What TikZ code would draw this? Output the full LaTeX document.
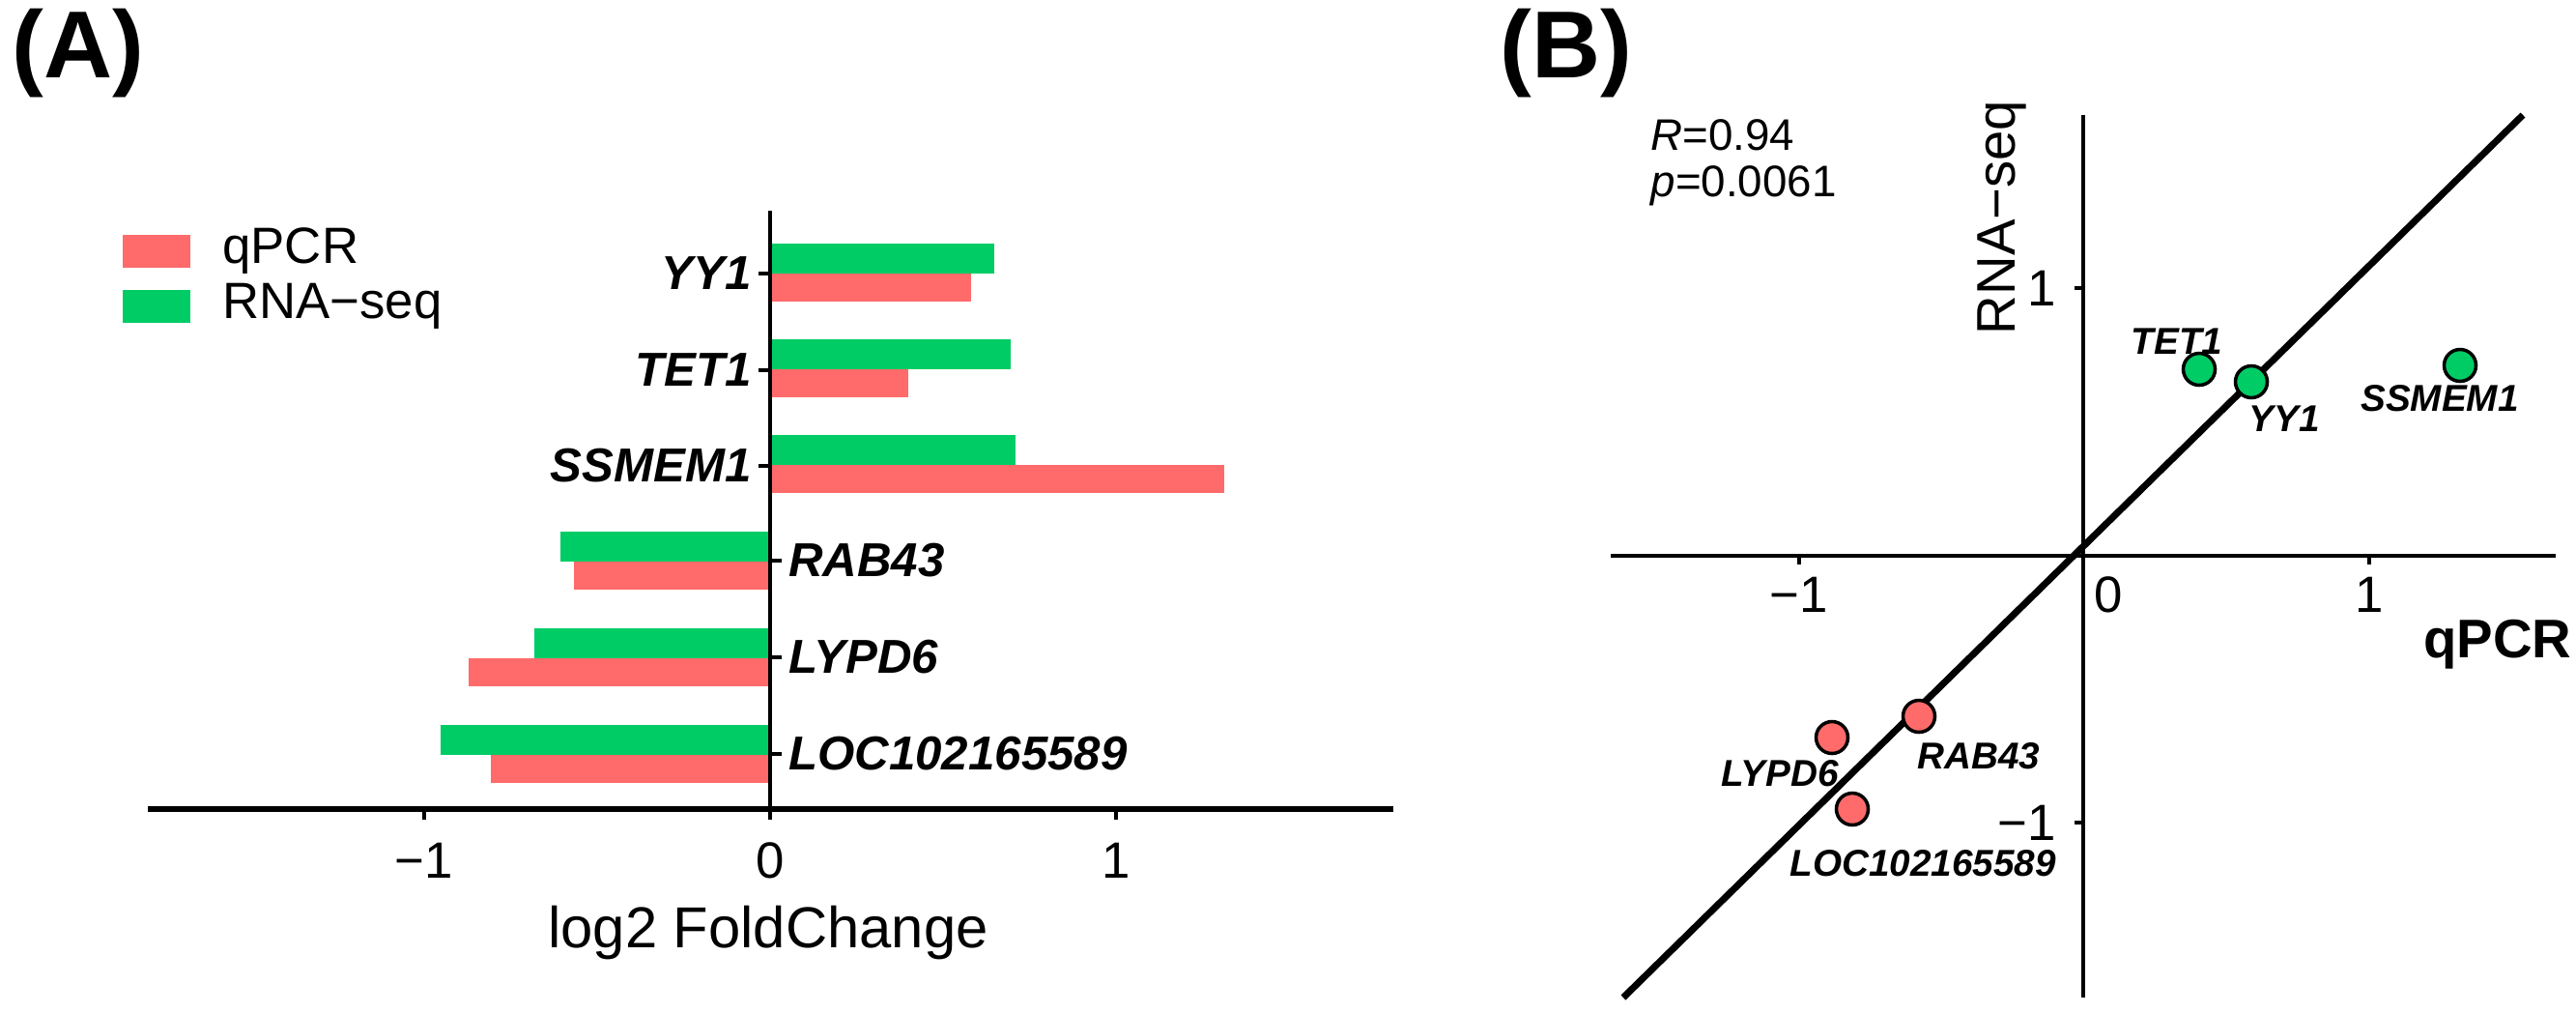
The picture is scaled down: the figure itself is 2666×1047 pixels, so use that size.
\documentclass[tikz,border=0pt]{standalone}
\usepackage{fontspec}
\setmainfont{Liberation Sans}
\begin{document}
\begin{tikzpicture}[x=0.01cm,y=-0.01cm,
  gene/.style={font=\fontsize{14}{16}\selectfont\bfseries\itshape,inner sep=1pt},
  geneb/.style={font=\fontsize{11}{13}\selectfont\bfseries\itshape,inner sep=1pt},
  tick/.style={font=\fontsize{15}{17}\selectfont},
  pt/.style={circle,draw=black,line width=1pt,minimum size=0.33cm,inner sep=0pt}]
\definecolor{qred}{HTML}{FF6B6B}
\definecolor{qgreen}{HTML}{00CC66}
\useasboundingbox (0,0) rectangle (2666,1047);
% panel labels
\node[font=\fontsize{28}{30}\selectfont\bfseries,anchor=west] (A) at (0,55) {(A)};
\node[font=\fontsize{28}{30}\selectfont\bfseries,anchor=west] (B) at (1540,55) {(B)};
% ---- Panel A ----
\foreach \y/\g/\r in {252/1029/1005, 351/1046/940, 450/1051/1267, 550/580/594, 650/553/485, 750/456/508}{
  \fill[qgreen] (797,\y) rectangle (\g,\y+31);
  \fill[qred] (797,\y+31) rectangle (\r,\y+60);
}
\draw[line width=1.2pt] (797,218) -- (797,837);
\draw[line width=1.8pt] (153,837) -- (1442,837);
\foreach \x/\l in {439/{−1},797/0,1155/1}{
  \draw[line width=1.2pt] (\x,837) -- (\x,848);
  \node[tick] at (\x,890) {\l};
}
\foreach \y in {283,383,482}{\draw[line width=1pt] (797,\y) -- (785,\y);}
\foreach \y in {580,680,780}{\draw[line width=1pt] (797,\y) -- (809,\y);}
\node[gene,anchor=east] (yy1) at (782,283) {YY1};
\node[gene,anchor=east] (tet1) at (782,383) {TET1};
\node[gene,anchor=east] (ssm) at (782,482) {SSMEM1};
\node[gene,anchor=west] (rab) at (812,580) {RAB43};
\node[gene,anchor=west] (lyp) at (812,680) {LYPD6};
\node[gene,anchor=west] (loc) at (812,780) {LOC102165589};
\node[font=\fontsize{17}{19}\selectfont] (xl) at (795,965) {log2 FoldChange};
\fill[qred] (127,243) rectangle (197,277);
\fill[qgreen] (127,300) rectangle (197,334);
\node[font=\fontsize{15}{17}\selectfont,anchor=west] (lq) at (218,260) {qPCR};
\node[font=\fontsize{15}{17}\selectfont,anchor=west] (lr) at (218,317) {RNA−seq};
% ---- Panel B ----
\draw[line width=1pt] (2156,119) -- (2156,1032);
\draw[line width=1pt] (1667,575) -- (2645,575);
\foreach \x in {1862,2452}{\draw[line width=1pt] (\x,575) -- (\x,584);}
\node[tick] at (1862,615) {−1};
\node[tick] at (2182,615) {0};
\node[tick] at (2452,615) {1};
\draw[line width=1pt] (2156,298) -- (2147,298);
\draw[line width=1pt] (2156,851) -- (2147,851);
\node[tick,anchor=east] at (2140,298) {1};
\node[tick,anchor=east] at (2140,851) {−1};
\node[font=\fontsize{16}{18}\selectfont,rotate=90] (ry) at (2072,225) {RNA−seq};
\node[font=\fontsize{16}{18}\selectfont\bfseries] (rx) at (2585,667) {qPCR};
\node[font=\fontsize{13}{15}\selectfont,anchor=west,inner sep=0pt] (rr) at (1708,140) {\textit{R}=0.94};
\node[font=\fontsize{13}{15}\selectfont,anchor=west,inner sep=0pt] (pp) at (1708,192) {\textit{p}=0.0061};
\coordinate (l1) at (1680,1032);
\coordinate (l2) at (2611,119);
\draw[line width=2pt] (l1) -- (l2);
\node[pt,fill=qgreen] (p1) at (2276,382) {};
\node[pt,fill=qgreen] (p2) at (2330,395) {};
\node[pt,fill=qgreen] (p3) at (2546,378) {};
\node[pt,fill=qred] (p4) at (1986,741) {};
\node[pt,fill=qred] (p5) at (1896,763) {};
\node[pt,fill=qred] (p6) at (1917,837) {};
\node[geneb] at (2253,353) {TET1};
\node[geneb] at (2364,433) {YY1};
\node[geneb] at (2525,412) {SSMEM1};
\node[geneb] at (2048,782) {RAB43};
\node[geneb] at (1842,800) {LYPD6};
\node[geneb] at (1990,893) {LOC102165589};
\end{tikzpicture}
\end{document}
